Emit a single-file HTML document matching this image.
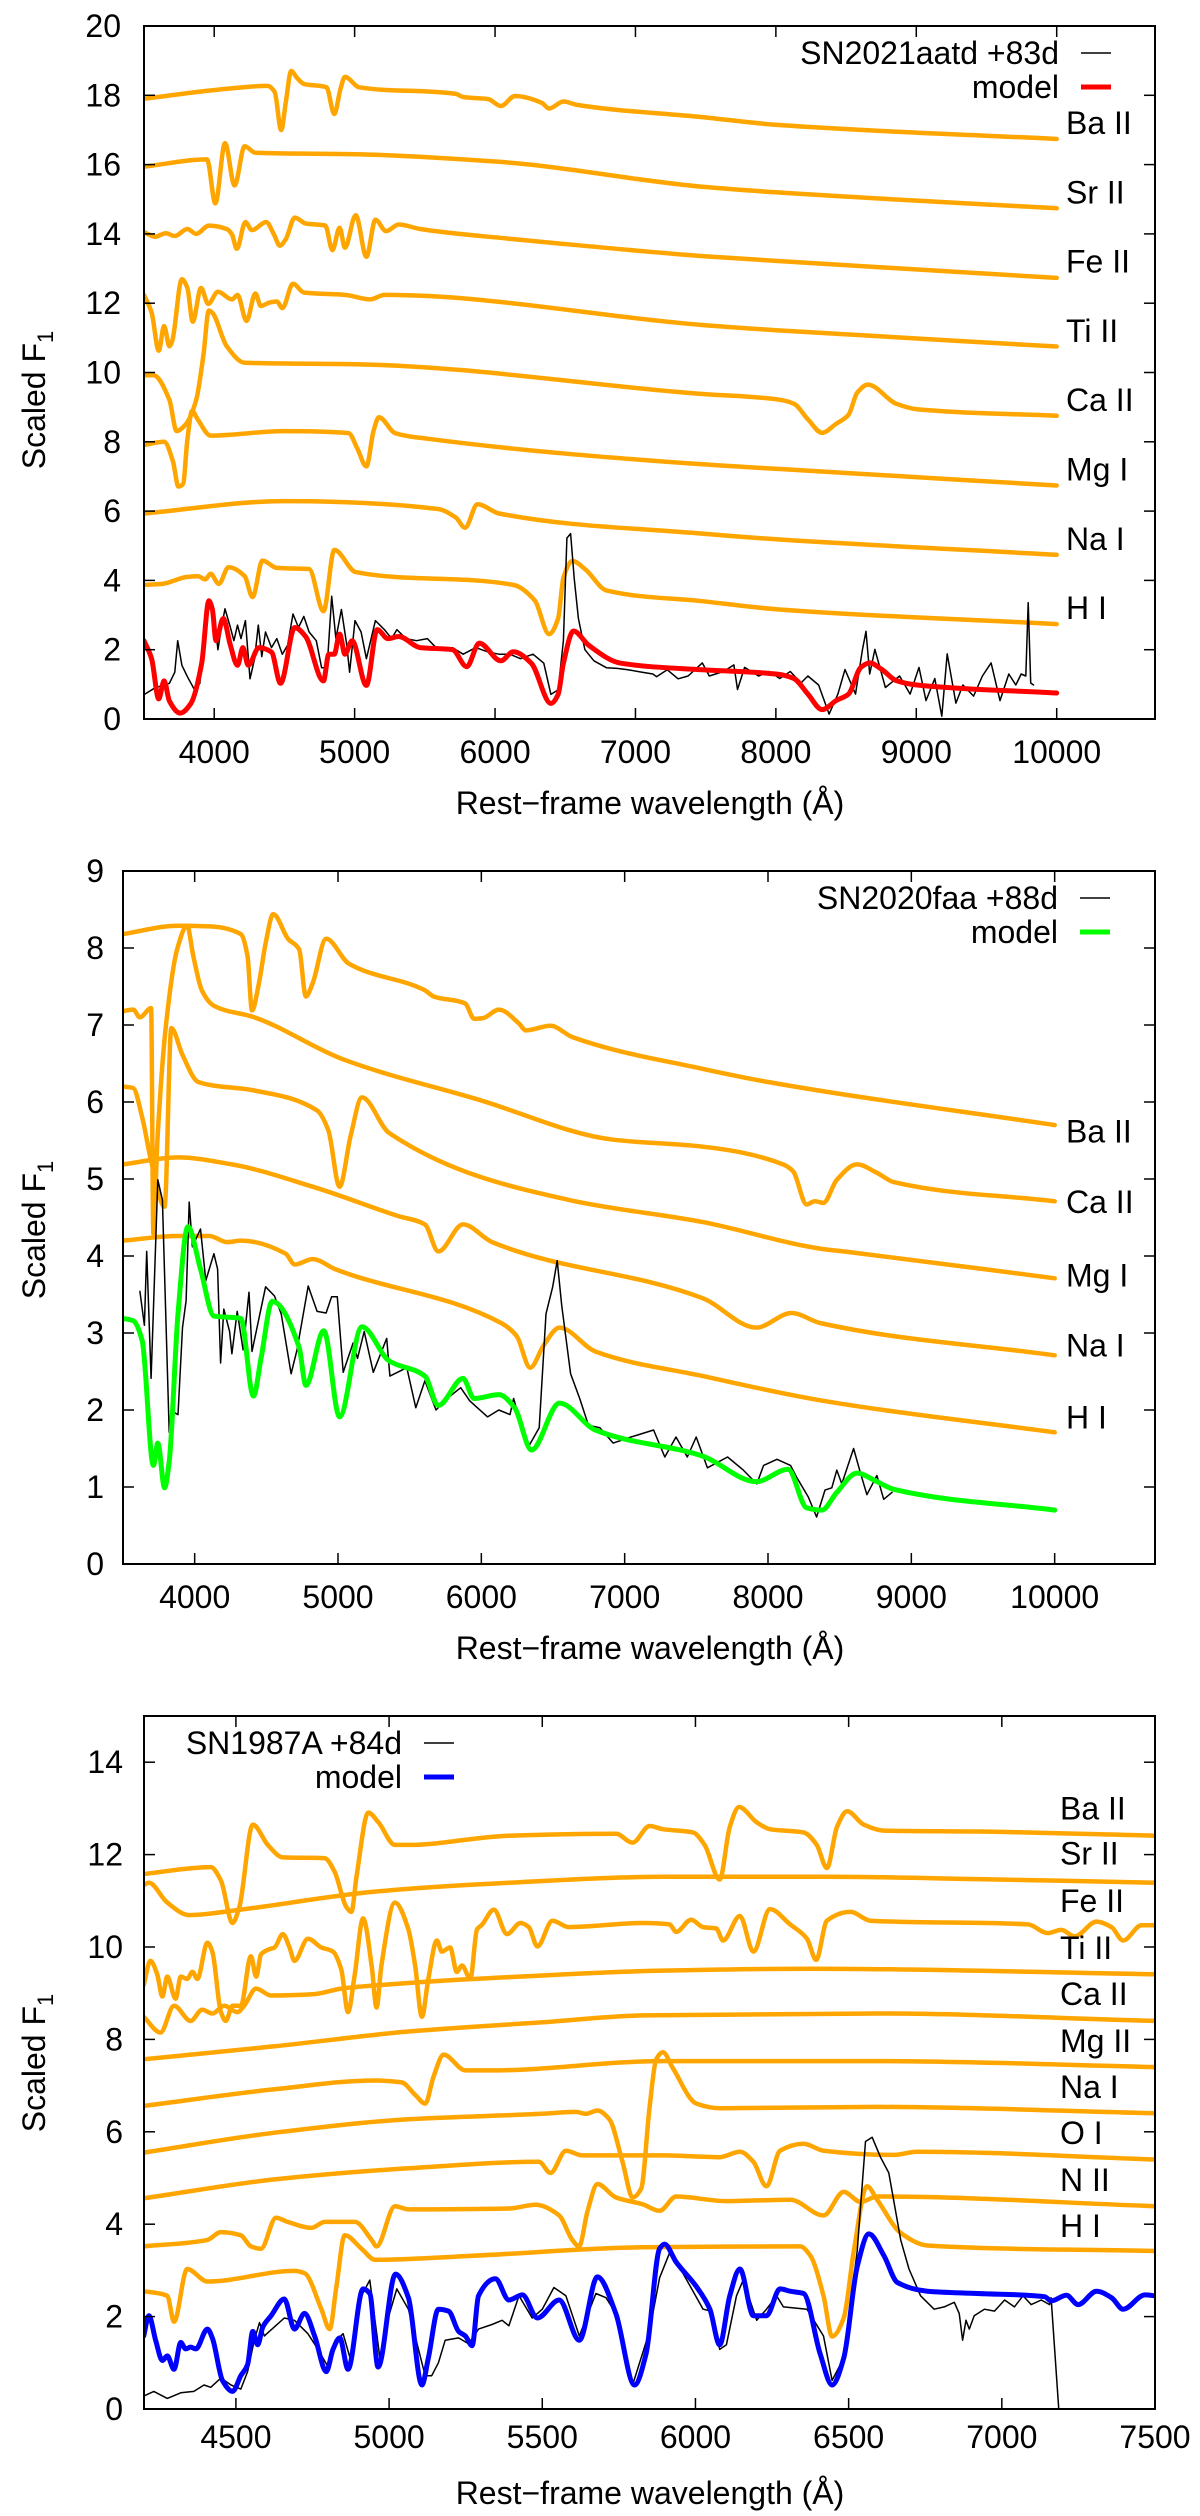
<!DOCTYPE html>
<html><head><meta charset="utf-8"><title>Spectra</title>
<style>
html,body{margin:0;padding:0;background:#fff;}
svg{display:block;font-family:"Liberation Sans",Arial,sans-serif;}
</style></head>
<body>
<svg id="fig" width="1200" height="2516" viewBox="0 0 1200 2516" xmlns="http://www.w3.org/2000/svg">
<rect x="0" y="0" width="1200" height="2516" fill="#fff"/>
</svg>
<script>
// ---------------- Panel 1 data: SN2021aatd +83d ----------------
const p1BaII=[[3500,17.9],[4000,18.15],[4380,18.27],[4430,18.1],[4477,17.0],[4510,17.8],[4548,18.7],[4590,18.5],[4638,18.33],[4800,18.23],[4855,17.46],[4900,18.2],[4931,18.53],[5033,18.23],[5722,18.04],[5773,17.95],[5952,17.89],[6041,17.69],[6143,17.98],[6334,17.78],[6385,17.62],[6487,17.82],[6589,17.72],[7477,17.37],[8000,17.15],[10000,16.74]];
const p1SrII=[[3500,15.94],[3949,16.15],[4008,14.88],[4077,16.62],[4145,15.4],[4217,16.53],[4293,16.34],[5008,16.3],[6028,16.08],[7477,15.36],[8000,15.2],[10000,14.74]];
const p1FeII=[[3500,14.05],[3579,13.92],[3656,14.02],[3719,13.94],[3809,14.14],[3872,14.0],[3962,14.24],[4089,14.14],[4127,13.98],[4161,13.57],[4222,14.34],[4268,14.11],[4370,14.34],[4426,13.98],[4467,13.66],[4510,13.85],[4574,14.47],[4651,14.3],[4791,14.24],[4842,13.53],[4893,14.18],[4931,13.6],[5008,14.54],[5084,13.34],[5148,14.41],[5224,14.08],[5314,14.27],[5467,14.14],[6130,13.85],[6360,13.76],[7477,13.36],[8000,13.22],[10000,12.73]];
const p1TiII=[[3500,12.24],[3554,11.73],[3605,10.63],[3643,11.34],[3681,10.76],[3700,10.9],[3770,12.69],[3809,12.44],[3847,11.47],[3906,12.44],[3957,11.98],[4026,12.33],[4127,12.11],[4166,12.24],[4230,11.49],[4293,12.28],[4332,11.92],[4395,12.02],[4446,12.05],[4485,11.86],[4561,12.56],[4638,12.31],[4727,12.28],[4931,12.24],[5110,12.11],[5212,12.24],[7477,11.37],[8000,11.22],[10000,10.75]];
const p1CaII=[[3500,9.92],[3567,9.92],[3681,9.21],[3732,8.31],[3796,8.5],[3872,9.21],[3923,10.5],[3962,11.79],[3987,11.72],[4089,10.76],[4217,10.28],[5008,10.24],[7477,9.38],[8000,9.23],[8128,9.1],[8228,8.65],[8329,8.26],[8429,8.52],[8517,8.78],[8580,9.42],[8655,9.65],[8856,9.1],[9006,8.94],[10000,8.75]];
const p1MgI=[[3500,7.91],[3643,8.0],[3707,7.42],[3745,6.71],[3778,6.78],[3809,8.06],[3842,8.89],[3885,8.63],[3974,8.18],[4497,8.31],[4957,8.25],[5020,7.8],[5084,7.29],[5135,8.32],[5173,8.71],[5288,8.25],[5518,8.09],[7477,7.35],[8000,7.22],[10000,6.74]];
const p1NaI=[[3500,5.93],[4497,6.29],[5594,6.06],[5722,5.81],[5786,5.52],[5875,6.2],[6028,5.93],[7477,5.35],[8000,5.19],[10000,4.74]];
const p1HI=[[3500,3.87],[3630,3.9],[3809,4.1],[3885,4.12],[3936,4.03],[3974,4.19],[4033,3.9],[4102,4.38],[4217,4.12],[4273,3.52],[4344,4.57],[4446,4.36],[4676,4.33],[4778,3.11],[4855,4.88],[5008,4.24],[6130,3.87],[6283,3.42],[6385,2.45],[6449,2.9],[6487,4.07],[6551,4.56],[6640,4.33],[6793,3.71],[7477,3.4],[8000,3.17],[10000,2.74]];
const p1Model=[[3500,2.26],[3554,1.74],[3605,0.58],[3643,1.1],[3681,0.52],[3758,0.17],[3834,0.45],[3911,1.61],[3962,3.41],[3987,3.16],[4013,2.26],[4064,2.9],[4115,2.13],[4166,1.55],[4204,2.06],[4242,1.55],[4319,2.06],[4408,1.93],[4472,1.03],[4574,2.64],[4651,2.38],[4778,1.1],[4816,1.87],[4855,1.87],[4893,2.45],[4931,1.87],[4982,2.26],[5084,0.97],[5161,2.58],[5237,2.32],[5314,2.38],[5467,2.06],[5697,2.0],[5798,1.51],[5888,2.19],[6041,1.68],[6130,1.94],[6258,1.61],[6398,0.45],[6449,0.71],[6487,1.61],[6559,2.54],[6666,2.13],[6895,1.61],[7477,1.42],[8000,1.3],[8128,1.17],[8228,0.72],[8329,0.27],[8429,0.53],[8517,0.72],[8605,1.49],[8668,1.62],[8755,1.43],[8856,1.11],[9006,0.98],[10000,0.75]];
const p1Obs=[[3503,0.71],[3579,0.9],[3681,1.03],[3719,1.35],[3740,2.26],[3770,1.55],[3809,1.22],[3860,0.84],[3898,1.03],[3931,2.64],[3962,3.41],[4000,3.03],[4026,2.0],[4051,2.64],[4077,3.18],[4115,2.64],[4140,2.26],[4166,2.71],[4191,2.32],[4222,2.84],[4255,1.16],[4288,1.74],[4314,2.71],[4339,1.8],[4365,2.51],[4408,2.06],[4446,2.32],[4485,1.87],[4523,2.13],[4561,3.03],[4600,2.64],[4638,2.96],[4676,2.51],[4727,2.26],[4765,1.48],[4804,1.48],[4837,3.54],[4867,2.32],[4906,3.16],[4944,2.13],[4964,1.35],[5003,2.84],[5046,2.51],[5084,1.74],[5148,2.84],[5212,2.58],[5263,2.32],[5301,2.58],[5365,2.32],[5441,2.26],[5518,2.32],[5594,2.0],[5697,2.06],[5773,1.87],[5862,2.06],[5952,1.93],[6028,1.87],[6105,1.87],[6181,1.74],[6270,1.87],[6347,1.61],[6398,0.71],[6449,0.84],[6487,2.26],[6512,5.22],[6538,5.35],[6564,4.06],[6594,2.9],[6640,2.0],[6704,1.68],[6793,1.48],[6870,1.46],[6946,1.42],[7048,1.35],[7124,1.3],[7150,1.22],[7227,1.42],[7304,1.16],[7375,1.24],[7476,1.62],[7526,1.24],[7626,1.37],[7701,1.56],[7727,0.85],[7777,1.49],[7877,1.24],[7952,1.37],[8028,1.17],[8103,1.37],[8178,1.04],[8228,1.24],[8304,0.98],[8379,0.14],[8442,0.72],[8492,1.43],[8567,0.72],[8617,2.01],[8642,2.53],[8668,1.3],[8705,2.01],[8780,0.91],[8881,1.24],[8956,0.72],[9019,1.49],[9069,0.53],[9132,1.17],[9182,0.08],[9220,1.88],[9282,0.46],[9332,0.98],[9408,0.66],[9471,1.24],[9533,1.62],[9596,0.53],[9659,1.3],[9709,0.98],[9747,1.3],[9780,1.24],[9797,3.36],[9815,1.04],[9835,0.98]];
const p1Labels=["Ba II","Sr II","Fe II","Ti II","Ca II","Mg I","Na I","H I"];
const p1LabelVals=[17.2,15.2,13.2,11.2,9.2,7.2,5.2,3.2];
const p1YTicks=[0,2,4,6,8,10,12,14,16,18,20];
const p1XTicks=[4000,5000,6000,7000,8000,9000,10000];

// ---------------- Panel 2 data: SN2020faa +88d ----------------
const p2BaII=[[3500,8.18],[3884,8.29],[4103,8.28],[4322,8.18],[4369,7.89],[4400,7.19],[4448,7.54],[4495,8.06],[4548,8.44],[4651,8.12],[4729,7.98],[4776,7.37],[4823,7.54],[4917,8.12],[5074,7.8],[5606,7.45],[5668,7.37],[5887,7.28],[5950,7.08],[6012,7.09],[6122,7.2],[6263,7.02],[6310,6.93],[6482,6.99],[6638,6.84],[7546,6.43],[8000,6.26],[10000,5.70]];
const p2CaII=[[3500,7.18],[3571,7.2],[3618,7.1],[3696,7.22],[3712,4.29],[3740,5.5],[3800,7.0],[3880,8.0],[3947,8.29],[3990,7.9],[4050,7.45],[4134,7.25],[4416,7.1],[5042,6.55],[5981,6.03],[6920,5.51],[7546,5.42],[8105,5.19],[8175,5.1],[8269,4.67],[8327,4.71],[8386,4.69],[8480,4.99],[8620,5.19],[8760,5.08],[8877,4.96],[10000,4.71]];
const p2MgI=[[3500,6.2],[3571,6.18],[3634,5.8],[3700,5.2],[3790,4.64],[3837,6.96],[3915,6.61],[4025,6.26],[4416,6.15],[4854,5.89],[4933,5.63],[5011,4.9],[5089,5.57],[5167,6.06],[5355,5.6],[6607,4.73],[7546,4.44],[8385,4.09],[8527,4.06],[10000,3.71]];
const p2NaI=[[3500,5.19],[3884,5.28],[4260,5.19],[4823,4.9],[5418,4.52],[5606,4.41],[5700,4.06],[5872,4.41],[6075,4.18],[7546,3.45],[7918,3.07],[8165,3.26],[8363,3.13],[10000,2.71]];
const p2HI=[[3500,4.2],[3884,4.26],[4103,4.26],[4228,4.18],[4322,4.2],[4635,4.03],[4698,3.89],[4823,3.96],[4980,3.83],[6138,3.13],[6247,2.96],[6341,2.55],[6435,2.84],[6545,3.07],[6795,2.76],[7546,2.44],[8385,2.12],[10000,1.71]];
const p2Model=[[3500,3.19],[3571,3.16],[3634,2.9],[3712,1.28],[3743,1.57],[3790,0.99],[3822,1.33],[3884,3.25],[3953,4.38],[4041,3.83],[4134,3.22],[4322,3.19],[4410,2.18],[4463,2.67],[4541,3.41],[4729,2.81],[4776,2.32],[4901,3.03],[5011,1.91],[5167,3.08],[5355,2.64],[5606,2.44],[5700,2.06],[5872,2.41],[5950,2.15],[6122,2.2],[6232,2.03],[6350,1.48],[6545,2.09],[6795,1.74],[7546,1.40],[7918,1.07],[8140,1.23],[8269,0.73],[8375,0.7],[8480,0.93],[8620,1.18],[8760,1.07],[8877,0.97],[10000,0.70]];
const p2Obs=[[3618,3.54],[3649,3.1],[3665,4.06],[3696,2.41],[3743,4.99],[3775,4.73],[3822,1.71],[3853,1.97],[3884,1.94],[3915,3.07],[3940,3.42],[3962,4.7],[3984,4.12],[4041,4.35],[4078,3.68],[4134,4.03],[4160,3.83],[4181,2.61],[4203,3.31],[4244,3.02],[4260,2.73],[4297,3.28],[4338,2.78],[4379,3.53],[4400,2.76],[4495,3.6],[4557,3.48],[4604,3.25],[4673,2.47],[4714,2.78],[4792,3.61],[4854,3.28],[4917,3.26],[4955,3.47],[4995,3.47],[5036,2.49],[5105,2.87],[5136,2.67],[5183,3.02],[5246,2.49],[5340,2.93],[5362,2.44],[5480,2.55],[5543,2.03],[5606,2.38],[5684,2.0],[5762,2.15],[5856,2.29],[5919,2.12],[6044,1.91],[6122,2.0],[6200,1.94],[6225,2.15],[6325,1.51],[6404,1.77],[6451,3.25],[6498,3.6],[6529,3.94],[6561,3.36],[6623,2.47],[6686,2.15],[6748,1.8],[6827,1.77],[6920,1.57],[7045,1.65],[7202,1.74],[7280,1.39],[7358,1.65],[7437,1.39],[7499,1.65],[7577,1.25],[7718,1.39],[7828,1.22],[7922,1.04],[7969,1.28],[8063,1.36],[8157,1.28],[8199,1.13],[8281,0.87],[8339,0.61],[8398,0.96],[8445,0.99],[8480,1.22],[8515,1.04],[8597,1.5],[8644,1.19],[8690,0.9],[8760,1.15],[8807,0.84],[8865,0.93]];
const p2Labels=["Ba II","Ca II","Mg I","Na I","H I"];
const p2LabelVals=[5.62,4.7,3.75,2.84,1.9];
const p2YTicks=[0,1,2,3,4,5,6,7,8,9];
const p2XTicks=[4000,5000,6000,7000,8000,9000,10000];

// ---------------- Panel 3 data: SN1987A +84d ----------------
const p3BaII=[[4199,11.58],[4418,11.73],[4451,11.44],[4489,10.52],[4511,10.86],[4555,12.65],[4604,12.21],[4653,11.94],[4790,11.92],[4822,11.63],[4861,10.86],[4877,10.76],[4894,11.54],[4932,12.91],[4965,12.7],[5019,12.21],[5063,12.21],[5391,12.41],[5741,12.45],[5795,12.26],[5850,12.62],[5894,12.55],[5992,12.48],[6030,12.21],[6079,11.46],[6112,12.6],[6142,13.03],[6200,12.7],[6243,12.55],[6353,12.48],[6396,12.21],[6429,11.71],[6462,12.6],[6495,12.94],[6549,12.65],[6615,12.52],[6921,12.5],[7500,12.41]];
const p3SrII=[[4199,11.34],[4216,11.39],[4276,10.96],[4347,10.69],[4516,10.81],[4954,11.2],[5391,11.39],[5894,11.52],[6429,11.52],[6921,11.47],[7500,11.39]];
const p3FeII=[[4199,9.17],[4221,9.7],[4243,9.41],[4260,8.93],[4276,9.36],[4303,8.88],[4320,9.36],[4341,9.31],[4358,9.46],[4374,9.31],[4407,10.09],[4423,9.9],[4451,8.59],[4467,8.4],[4489,8.73],[4516,8.73],[4549,9.8],[4566,9.36],[4582,9.84],[4604,9.94],[4626,9.99],[4653,10.28],[4675,9.99],[4691,9.7],[4735,10.18],[4779,9.99],[4817,9.9],[4844,9.51],[4866,8.59],[4888,9.41],[4915,10.62],[4943,9.6],[4959,8.69],[4975,9.6],[5019,10.96],[5063,10.38],[5085,9.6],[5107,8.49],[5128,9.31],[5156,10.14],[5172,9.9],[5199,9.99],[5221,9.46],[5238,9.6],[5265,9.31],[5287,10.38],[5303,10.48],[5342,10.81],[5385,10.28],[5429,10.52],[5456,10.43],[5484,10.01],[5533,10.57],[5587,10.43],[5828,10.52],[5915,10.49],[5937,10.33],[5986,10.59],[6025,10.43],[6068,10.4],[6090,10.14],[6145,10.67],[6189,9.9],[6243,10.82],[6309,10.49],[6364,10.18],[6394,9.72],[6429,10.57],[6506,10.76],[6571,10.57],[7085,10.49],[7150,10.3],[7194,10.37],[7238,10.23],[7309,10.55],[7358,10.43],[7396,10.14],[7456,10.47],[7500,10.47]];
const p3TiII=[[4199,8.49],[4254,8.15],[4298,8.73],[4352,8.4],[4390,8.64],[4423,8.56],[4462,8.73],[4505,8.59],[4527,8.73],[4566,9.1],[4615,8.95],[4757,8.98],[4844,9.1],[5063,9.22],[5172,9.27],[5282,9.31],[5894,9.49],[6375,9.53],[7500,9.41]];
const p3CaII=[[4199,7.57],[4626,7.85],[5063,8.17],[5500,8.37],[5828,8.52],[6593,8.56],[7500,8.4]];
const p3MgII=[[4199,6.56],[4626,6.92],[4954,7.11],[5041,7.07],[5085,6.8],[5118,6.61],[5145,7.19],[5178,7.67],[5249,7.33],[5336,7.33],[5894,7.53],[6593,7.53],[7500,7.4]];
const p3NaI=[[4199,5.55],[4626,5.98],[5063,6.27],[5500,6.39],[5610,6.43],[5642,6.39],[5680,6.46],[5719,6.27],[5762,5.35],[5795,4.58],[5823,4.77],[5850,6.51],[5872,7.57],[5894,7.72],[5926,7.38],[6003,6.61],[6079,6.51],[6593,6.54],[7500,6.4]];
const p3OI=[[4199,4.56],[4626,4.97],[5063,5.21],[5489,5.35],[5527,5.11],[5577,5.59],[5631,5.49],[5894,5.49],[6079,5.45],[6145,5.57],[6189,5.35],[6232,4.82],[6276,5.59],[6353,5.74],[6418,5.59],[6648,5.5],[6724,5.57],[7500,5.4]];
const p3NII=[[4199,3.52],[4407,3.66],[4451,3.83],[4516,3.76],[4549,3.52],[4582,3.47],[4631,4.14],[4669,4.05],[4746,3.92],[4790,4.05],[4888,4.05],[4943,3.66],[4959,3.52],[5019,4.39],[5063,4.32],[5391,4.34],[5478,4.42],[5555,4.19],[5598,3.66],[5620,3.52],[5648,4.29],[5680,4.87],[5740,4.58],[5828,4.43],[5883,4.29],[5937,4.6],[6101,4.5],[6309,4.53],[6418,4.19],[6484,4.7],[6539,4.48],[6593,4.6],[7500,4.39]];
const p3HI=[[4199,2.55],[4276,2.45],[4298,1.89],[4341,3.03],[4407,2.76],[4691,2.99],[4724,2.94],[4779,2.16],[4806,1.73],[4828,2.65],[4855,3.76],[4910,3.47],[4954,3.23],[5282,3.32],[5828,3.5],[6342,3.52],[6375,3.32],[6418,2.45],[6446,1.57],[6484,1.97],[6517,3.42],[6560,4.82],[6593,4.53],[6670,3.81],[6757,3.54],[7500,3.42]];
const p3Model=[[4199,1.58],[4216,2.02],[4238,1.49],[4260,1.05],[4276,1.15],[4298,0.86],[4320,1.44],[4336,1.3],[4352,1.34],[4369,1.3],[4407,1.73],[4423,1.54],[4456,0.62],[4489,0.38],[4516,0.72],[4538,0.96],[4555,1.68],[4571,1.39],[4588,1.78],[4615,2.02],[4658,2.38],[4691,1.73],[4724,2.07],[4757,1.58],[4795,0.81],[4817,1.29],[4839,1.54],[4866,0.86],[4915,2.6],[4937,2.5],[4964,0.91],[5021,2.92],[5063,2.41],[5107,0.52],[5128,1.1],[5161,2.16],[5194,2.12],[5227,1.68],[5249,1.58],[5271,1.37],[5292,2.45],[5347,2.82],[5391,2.36],[5435,2.47],[5484,1.97],[5555,2.36],[5621,1.49],[5680,2.86],[5740,2.07],[5801,0.52],[5839,1.2],[5883,3.47],[5899,3.57],[5937,3.18],[6003,2.65],[6047,2.16],[6079,1.39],[6112,2.45],[6145,3.03],[6189,2.02],[6232,2.02],[6276,2.6],[6309,2.55],[6353,2.5],[6407,1.2],[6446,0.52],[6484,1.1],[6528,3.08],[6566,3.79],[6615,3.32],[6659,2.74],[6757,2.55],[6921,2.5],[7140,2.43],[7161,2.34],[7211,2.46],[7249,2.26],[7309,2.55],[7358,2.41],[7396,2.16],[7467,2.47],[7500,2.45]];
const p3Obs=[[4199,0.28],[4232,0.38],[4276,0.23],[4320,0.35],[4363,0.38],[4396,0.52],[4418,0.47],[4451,0.67],[4484,0.52],[4516,0.43],[4538,0.81],[4560,1.49],[4577,1.87],[4593,1.58],[4609,1.68],[4626,1.78],[4658,1.97],[4691,1.92],[4735,1.63],[4768,1.29],[4801,0.91],[4828,1.49],[4850,1.63],[4877,1.0],[4910,2.45],[4937,2.79],[4970,1.1],[4997,1.97],[5025,2.6],[5063,2.16],[5096,1.29],[5118,0.72],[5139,0.72],[5161,1.0],[5183,1.49],[5227,1.54],[5260,1.41],[5292,1.73],[5336,1.83],[5369,1.92],[5391,1.8],[5424,2.45],[5467,1.97],[5500,2.16],[5538,2.63],[5577,2.45],[5621,1.58],[5675,2.5],[5708,2.41],[5740,2.07],[5795,0.52],[5850,1.68],[5883,2.84],[5915,3.37],[5959,2.94],[6025,2.16],[6052,2.12],[6079,1.29],[6101,1.39],[6134,2.45],[6156,2.79],[6200,1.92],[6232,2.16],[6265,2.45],[6287,2.21],[6364,2.16],[6418,1.58],[6446,0.62],[6484,1.1],[6528,3.42],[6555,5.79],[6577,5.88],[6604,5.45],[6631,5.11],[6670,3.66],[6697,3.03],[6735,2.45],[6779,2.16],[6812,2.21],[6845,2.31],[6861,2.07],[6872,1.49],[6883,1.92],[6894,1.73],[6910,2.02],[6943,2.16],[6976,2.12],[7009,2.36],[7041,2.21],[7069,2.45],[7096,2.26],[7129,2.36],[7156,2.26],[7161,2.41],[7189,-0.3]];
const p3Labels=["Ba II","Sr II","Fe II","Ti II","Ca II","Mg II","Na I","O I","N II","H I"];
const p3LabelVals=[13.0,12.02,11.0,9.98,8.98,7.96,6.97,5.97,4.96,3.96];
const p3YTicks=[0,2,4,6,8,10,12,14];
const p3XTicks=[4500,5000,5500,6000,6500,7000,7500];

const NS="http://www.w3.org/2000/svg";
const svg=document.getElementById('fig');
function mk(tag,attrs,parent){const e=document.createElementNS(NS,tag);for(const k in attrs)e.setAttribute(k,attrs[k]);(parent||svg).appendChild(e);return e;}

// monotone cubic (Fritsch-Carlson) in screen coords; x strictly increasing
function smoothPath(pts){
  const n=pts.length;
  const f=v=>v.toFixed(1);
  if(n<3)return 'M'+pts.map(p=>f(p[0])+','+f(p[1])).join('L');
  const dx=[],m=[];
  for(let i=0;i<n-1;i++){dx.push(pts[i+1][0]-pts[i][0]);m.push((pts[i+1][1]-pts[i][1])/dx[i]);}
  const t=new Array(n);
  t[0]=m[0];t[n-1]=m[n-2];
  for(let i=1;i<n-1;i++){
    if(m[i-1]*m[i]<=0)t[i]=0;
    else{const w1=2*dx[i]+dx[i-1],w2=dx[i]+2*dx[i-1];t[i]=(w1+w2)/(w1/m[i-1]+w2/m[i]);}
  }
  let d='M'+f(pts[0][0])+','+f(pts[0][1]);
  for(let i=0;i<n-1;i++){
    const h=dx[i]/3;
    d+='C'+f(pts[i][0]+h)+','+f(pts[i][1]+t[i]*h)+' '+f(pts[i+1][0]-h)+','+f(pts[i+1][1]-t[i+1]*h)+' '+f(pts[i+1][0])+','+f(pts[i+1][1]);
  }
  return d;
}

function drawPanel(id,cfg){
  const g=mk('g',{});
  
  
  const sx=w=>cfg.L+(w-cfg.x0)/(cfg.x1-cfg.x0)*(cfg.R-cfg.L);
  const sy=v=>cfg.B-(v-cfg.y0)/(cfg.y1-cfg.y0)*(cfg.B-cfg.T);
  const cp=mk('clipPath',{id:id+'-clip'},g);
  mk('rect',{x:cfg.L,y:cfg.T,width:cfg.R-cfg.L,height:cfg.B-cfg.T},cp);
  const plot=mk('g',{'clip-path':'url(#'+id+'-clip)'},g);
  
  
  function line(data,color,width,name,smooth){
    const pts=data.map(d=>[sx(d[0]),sy(d[1])]);
    const p=mk('path',{d:smooth?smoothPath(pts):'M'+pts.map(q=>q[0].toFixed(1)+','+q[1].toFixed(1)).join('L'),fill:'none',stroke:color,'stroke-width':width,'stroke-linejoin':'round','stroke-linecap':'round'},plot);
    
    
  }
  cfg.ions.forEach((d,i)=>line(d,'#FFA500',4.5,id+'-ion-'+cfg.labels[i].toLowerCase().replace(' ','-'),true));
  line(cfg.obs,'#000',1.5,id+'-observed-spectrum',false);
  line(cfg.model,cfg.mcol,5,id+'-model-spectrum',true);
  const fr=mk('rect',{x:cfg.L,y:cfg.T,width:cfg.R-cfg.L,height:cfg.B-cfg.T,fill:'none',stroke:'#000','stroke-width':2},g);
  
  
  cfg.xt.forEach(t=>{
    const x=sx(t);
    mk('line',{x1:x,x2:x,y1:cfg.B,y2:cfg.B-11,stroke:'#000','stroke-width':1.5},g);
    mk('line',{x1:x,x2:x,y1:cfg.T,y2:cfg.T+11,stroke:'#000','stroke-width':1.5},g);
    const tx=mk('text',{x:x,y:cfg.xly,'text-anchor':'middle','font-size':32,fill:'#000'},g);
    
    
    tx.textContent=t;
  });
  cfg.yt.forEach(t=>{
    const y=sy(t);
    mk('line',{x1:cfg.L,x2:cfg.L+11,y1:y,y2:y,stroke:'#000','stroke-width':1.5},g);
    mk('line',{x1:cfg.R,x2:cfg.R-11,y1:y,y2:y,stroke:'#000','stroke-width':1.5},g);
    const ty=mk('text',{x:cfg.ylx,y:y+11,'text-anchor':'end','font-size':32,fill:'#000'},g);
    
    
    ty.textContent=t;
  });
  cfg.labels.forEach((s,i)=>{
    const t=mk('text',{x:cfg.labx,y:sy(cfg.labv[i])+11,'font-size':32,fill:'#000'},g);
    
    
    t.textContent=s;
  });
  const xt=mk('text',{x:650,y:cfg.xty,'text-anchor':'middle','font-size':32,fill:'#000'},g);
  
  
  xt.textContent='Rest\u2212frame wavelength (\u00C5)';
  const yt=mk('text',{x:0,y:0,'text-anchor':'middle','font-size':32,fill:'#000',transform:'translate(45,'+cfg.yty+') rotate(-90)'},g);
  
  
  yt.textContent='Scaled F';
  const sub=mk('tspan',{'font-size':22,dy:8},yt);
  sub.textContent='1';
  const lg=mk('g',{},g);
  
  
  const t1=mk('text',{x:cfg.legx,y:cfg.legy+11,'text-anchor':'end','font-size':32,fill:'#000'},lg);
  
  
  t1.textContent=cfg.legname;
  mk('line',{x1:cfg.legx+22,x2:cfg.legx+52,y1:cfg.legy,y2:cfg.legy,stroke:'#000','stroke-width':1.5},lg);
  const t2=mk('text',{x:cfg.legx,y:cfg.legy+34+11,'text-anchor':'end','font-size':32,fill:'#000'},lg);
  
  
  t2.textContent='model';
  mk('line',{x1:cfg.legx+22,x2:cfg.legx+52,y1:cfg.legy+34,y2:cfg.legy+34,stroke:cfg.mcol,'stroke-width':5},lg);
}

drawPanel('panel1',{L:144,R:1155,T:26,B:719,x0:3500,x1:10700,y0:0,y1:20,
  ions:[p1BaII,p1SrII,p1FeII,p1TiII,p1CaII,p1MgI,p1NaI,p1HI],labels:p1Labels,labv:p1LabelVals,
  obs:p1Obs,model:p1Model,mcol:'#FF0000',xt:p1XTicks,yt:p1YTicks,xly:763,ylx:121,xty:814,yty:400,
  labx:1066,legx:1059,legy:53,legname:'SN2021aatd +83d'});
drawPanel('panel2',{L:123,R:1155,T:871,B:1564,x0:3500,x1:10700,y0:0,y1:9,
  ions:[p2BaII,p2CaII,p2MgI,p2NaI,p2HI],labels:p2Labels,labv:p2LabelVals,
  obs:p2Obs,model:p2Model,mcol:'#00FF00',xt:p2XTicks,yt:p2YTicks,xly:1608,ylx:104,xty:1659,yty:1230,
  labx:1066,legx:1058,legy:898,legname:'SN2020faa +88d'});
drawPanel('panel3',{L:144,R:1155,T:1716,B:2409,x0:4200,x1:7500,y0:0,y1:15,
  ions:[p3BaII,p3SrII,p3FeII,p3TiII,p3CaII,p3MgII,p3NaI,p3OI,p3NII,p3HI],labels:p3Labels,labv:p3LabelVals,
  obs:p3Obs,model:p3Model,mcol:'#0000FF',xt:p3XTicks,yt:p3YTicks,xly:2448,ylx:123,xty:2504,yty:2063,
  labx:1060,legx:402,legy:1743,legname:'SN1987A +84d'});
</script>
</body></html>
